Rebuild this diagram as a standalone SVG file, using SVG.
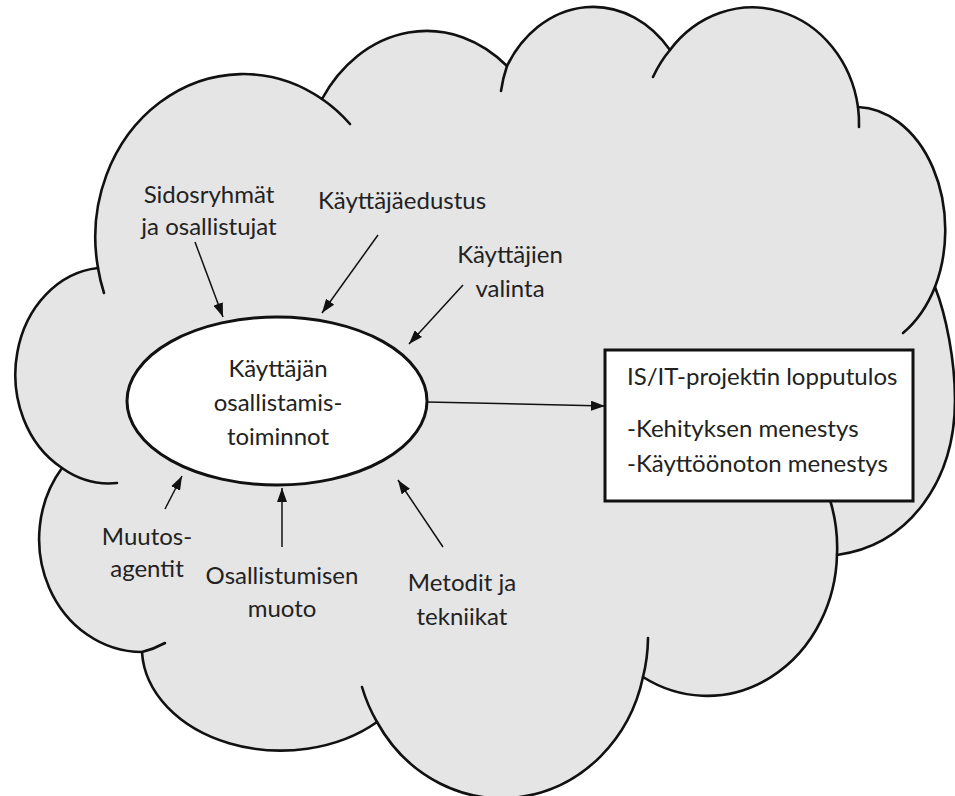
<svg xmlns="http://www.w3.org/2000/svg" width="955" height="796" viewBox="0 0 955 796">
<defs>
<marker id="ah" markerUnits="userSpaceOnUse" markerWidth="14" markerHeight="10" refX="14" refY="5" orient="auto">
<path d="M0,0 L14,5 L0,10 Z" fill="#111"/>
</marker>
<style>
.t{font-family:Lato,"Open Sans","Liberation Sans",sans-serif;font-size:24px;fill:#222;text-anchor:middle}
.bt{font-family:Lato,"Open Sans","Liberation Sans",sans-serif;font-size:24px;fill:#222}
.cl{fill:none;stroke:#111;stroke-width:2.6;stroke-linecap:round}
.cn{fill:none;stroke:#111;stroke-width:1.5}
</style>
</defs>
<rect width="955" height="796" fill="#fff"/>
<g id="cloud">
<path d="M98 268 A148 163 0 0 1 322 99 A125 150 0 0 1 507 66 A100 120 0 0 1 670 50 A107 118 0 0 1 858 107 A90 123 0 0 1 935 287 C946 315 955 360 955 400 C955 480 910 545 837 555 A130 145 0 0 1 643 677 A145 156 0 0 1 377 722 A139 103 0 0 1 142 652 A103 113 0 0 1 62 468 A91 107 0 0 1 98 268 Z" fill="#e5e5e5" stroke="#111" stroke-width="2.6" stroke-linejoin="round"/>
<path class="cl" d="M98 268 A148 163 0 0 0 104 293"/>
<path class="cl" d="M322 99 A148 163 0 0 1 350 124"/>
<path class="cl" d="M501 91 A100 120 0 0 1 507 66"/>
<path class="cl" d="M653 77 A107 118 0 0 1 670 50"/>
<path class="cl" d="M858 107 A107 118 0 0 1 859 127"/>
<path class="cl" d="M935 287 A90 123 0 0 1 903 333"/>
<path class="cl" d="M830 500 A130 145 0 0 1 837 555"/>
<path class="cl" d="M648 638 A145 156 0 0 1 643 677"/>
<path class="cl" d="M377 722 A145 156 0 0 1 362 687"/>
<path class="cl" d="M165 643 A103 113 0 0 1 142 652"/>
<path class="cl" d="M117 483 A91 107 0 0 1 62 468"/>
</g>
<g id="connectors">
<line class="cn" x1="195" y1="242" x2="223" y2="317" marker-end="url(#ah)"/>
<line class="cn" x1="378" y1="235" x2="322" y2="313" marker-end="url(#ah)"/>
<line class="cn" x1="463" y1="285" x2="409" y2="344" marker-end="url(#ah)"/>
<line class="cn" x1="427" y1="402" x2="605" y2="406" marker-end="url(#ah)"/>
<line class="cn" x1="165" y1="509" x2="182" y2="476" marker-end="url(#ah)"/>
<line class="cn" x1="282" y1="547" x2="282" y2="488" marker-end="url(#ah)"/>
<line class="cn" x1="443" y1="547" x2="398" y2="480" marker-end="url(#ah)"/>
</g>
<g id="center-node">
<ellipse cx="277" cy="401" rx="150" ry="84" fill="#fff" stroke="#111" stroke-width="3"/>
<text class="t" x="278" y="377">Käyttäjän</text>
<text class="t" x="278" y="411">osallistamis-</text>
<text class="t" x="278" y="445">toiminnot</text>
</g>
<g id="outcome-node">
<rect x="605" y="350" width="308" height="151" fill="#fff" stroke="#111" stroke-width="3"/>
<text class="bt" x="627" y="385">IS/IT-projektin lopputulos</text>
<text class="bt" x="627" y="437">-Kehityksen menestys</text>
<text class="bt" x="627" y="472">-Käyttöönoton menestys</text>
</g>
<g id="label-sidosryhmat">
<text class="t" x="209" y="203">Sidosryhmät</text>
<text class="t" x="209" y="235">ja osallistujat</text>
</g>
<g id="label-kayttajaedustus">
<text class="t" x="402" y="209">Käyttäjäedustus</text>
</g>
<g id="label-kayttajien-valinta">
<text class="t" x="510" y="263">Käyttäjien</text>
<text class="t" x="510" y="297">valinta</text>
</g>
<g id="label-muutosagentit">
<text class="t" x="147" y="545">Muutos-</text>
<text class="t" x="147" y="577">agentit</text>
</g>
<g id="label-osallistumisen-muoto">
<text class="t" x="282" y="584">Osallistumisen</text>
<text class="t" x="282" y="617">muoto</text>
</g>
<g id="label-metodit">
<text class="t" x="462" y="591">Metodit ja</text>
<text class="t" x="462" y="625">tekniikat</text>
</g>
</svg>
